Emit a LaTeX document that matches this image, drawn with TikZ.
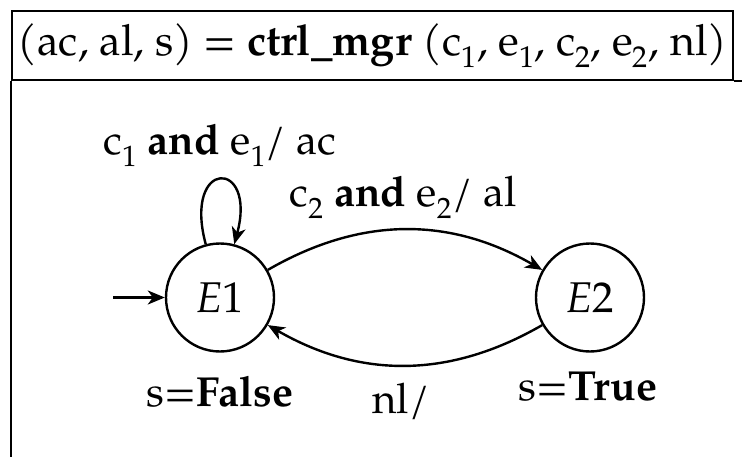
\documentclass[tikz,border=0pt]{standalone}
\usepackage{fontspec}
\setmainfont{TeX Gyre Pagella}
\usetikzlibrary{arrows.meta}

\begin{document}
\begin{tikzpicture}[x=1pt, y=1pt, line width=2.4pt,
    >={Stealth[length=17pt, width=14pt, inset=5pt]},
    state/.style={draw, circle, minimum size=108pt, inner sep=0pt,
        font=\fontsize{43}{50}\selectfont},
    lbl/.style={anchor=base, inner sep=0pt, font=\fontsize{42}{50}\selectfont}]
\useasboundingbox (0,0) rectangle (742,456);

% --- HEADER AND FRAME ---
\node[draw, minimum width=721pt, minimum height=69pt, inner sep=0pt,
    font=\fontsize{43}{50}\selectfont] (head) at (372.5,410.5)
    {(ac, al, s) = \textbf{ctrl\_mgr} (c\textsubscript{1}, e\textsubscript{1}, c\textsubscript{2}, e\textsubscript{2}, nl)};
\draw (head.south west) -- ++(0,-420);
\draw (head.south east) -- ++(30,0);

% --- STATES ---
\node[state] (E1) at (220,158.5) {\textit{E}1};
\node[state] (E2) at (590,158.5) {\textit{E}2};
\coordinate (init) at (113,158.5);

% transitions
\draw[->] (init) -- (E1);
\draw[->] (E1) to[loop above] (E1);
\draw[->] (E1) to[bend left=30] (E2);
\draw[->] (E2) to[bend left=30] (E1);

% labels
\node[lbl] (loop-lbl) at (220,301) {c\textsubscript{1} \textbf{and} e\textsubscript{1}/ ac};
\node[lbl] (go-lbl) at (403,249) {c\textsubscript{2} \textbf{and} e\textsubscript{2}/ al};
\node[lbl] (back-lbl) at (401,43) {nl/};
\node[lbl] (E1-out) at (220,50) {s=\textbf{False}};
\node[lbl] (E2-out) at (588,56) {s=\textbf{True}};
\end{tikzpicture}
\end{document}
